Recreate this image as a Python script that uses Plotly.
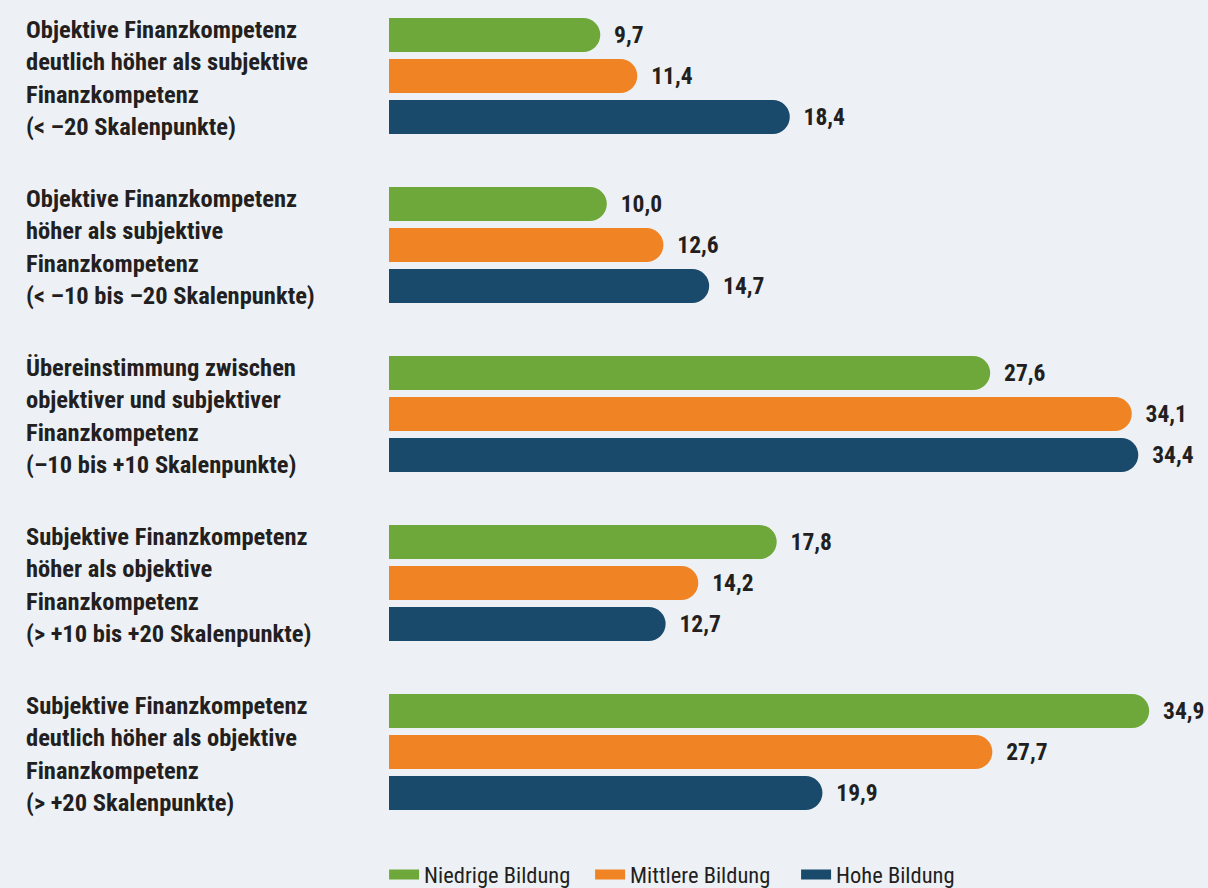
import plotly.graph_objects as go

categories = [
    "Objektive Finanzkompetenz<br>deutlich höher als subjektive<br>Finanzkompetenz<br>(< –20 Skalenpunkte)",
    "Objektive Finanzkompetenz<br>höher als subjektive<br>Finanzkompetenz<br>(< –10 bis –20 Skalenpunkte)",
    "Übereinstimmung zwischen<br>objektiver und subjektiver<br>Finanzkompetenz<br>(–10 bis +10 Skalenpunkte)",
    "Subjektive Finanzkompetenz<br>höher als objektive<br>Finanzkompetenz<br>(> +10 bis +20 Skalenpunkte)",
    "Subjektive Finanzkompetenz<br>deutlich höher als objektive<br>Finanzkompetenz<br>(> +20 Skalenpunkte)",
]
series_names = ["Niedrige Bildung", "Mittlere Bildung", "Hohe Bildung"]
niedrige = [9.7, 10.0, 27.6, 17.8, 34.9]
mittlere = [11.4, 12.6, 34.1, 14.2, 27.7]
hohe = [18.4, 14.7, 34.4, 12.7, 19.9]
colors = ["#6fa83a", "#f08424", "#1a4a6b"]

BG = "#edf1f5"
TXT = "#231f20"
COND = "Roboto Condensed, Liberation Sans Narrow, DejaVu Sans Condensed, sans-serif"

fig = go.Figure()
for name, vals, col in zip(series_names, [niedrige, mittlere, hohe], colors):
    fig.add_trace(go.Bar(
        y=list(range(len(categories))), x=vals, orientation="h", name=name,
        marker=dict(color=col, cornerradius=17, line=dict(width=0)),
        texttemplate="\u00a0\u00a0%{x:.1f}", textposition="outside",
        constraintext="none", cliponaxis=False,
        textfont=dict(family=COND, size=23.5, color=TXT, weight="bold"),
        showlegend=False, hoverinfo="skip",
    ))
    fig.add_trace(go.Scatter(
        x=[None], y=[None], mode="lines", name=name,
        line=dict(color=col, width=10), showlegend=True,
    ))

# left labels as annotations, one line each
for i, cat in enumerate(categories):
    lines = cat.split("<br>")
    n = len(lines)
    for j, ln in enumerate(lines):
        fig.add_annotation(
            xref="paper", x=0, xanchor="left", xshift=-365,
            yref="y", y=i, yanchor="middle",
            yshift=(n - 1) / 2 * 32.3 - j * 32.3 - 2,
            text=ln, showarrow=False, align="left",
            font=dict(family=COND, size=24.5, color=TXT, weight="bold"),
        )

fig.update_layout(
    width=1208, height=888,
    paper_bgcolor=BG, plot_bgcolor=BG,
    margin=dict(l=389, r=0, t=0, b=0, autoexpand=False),
    barmode="group", bargap=0.272, bargroupgap=0.17,
    separators=",.",
    xaxis=dict(range=[0, 37.6], visible=False, fixedrange=True),
    yaxis=dict(range=[-0.45 + 888 / 169, -0.45], visible=False, type="linear"),
    legend=dict(orientation="h", x=-0.006, xanchor="left", y=-0.0095, yanchor="bottom",
                font=dict(family=COND, size=22.5, color=TXT),
                entrywidth=161, entrywidthmode="pixels",
                itemwidth=30, tracegroupgap=0, bgcolor="rgba(0,0,0,0)"),
    showlegend=True,
)

fig.write_html(
    "out.html",
    config={"displayModeBar": False},
    post_script="document.body.style.margin='0';document.body.style.overflow='hidden';",
)
